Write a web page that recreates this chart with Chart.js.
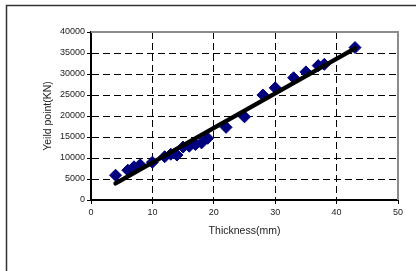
<!DOCTYPE html>
<html>
<head>
<meta charset="utf-8">
<script src="https://cdn.jsdelivr.net/npm/chart.js@4.4.0/dist/chart.umd.min.js"></script>
<style>
  body { margin: 0; background: #fff; }
  canvas { display: block; }
</style>
</head>
<body>
<canvas id="yieldChart" width="416" height="271"></canvas>
<script>
// measured thickness (mm) and yield point (KN)
var thickness = [4, 6, 7, 8, 10, 12, 13, 14, 15, 16, 17, 18, 19, 22, 25, 28, 30, 33, 35, 37, 38, 43];
var yieldPoint = [5900, 7100, 7900, 8400, 9000, 10300, 10900, 10700, 12600, 12800, 13200, 13600, 14700, 17300, 19800, 25000, 26700, 29100, 30500, 32000, 32300, 36300];

// linear trend line end points
var trendX = [4, 43];
var trendY = [3950, 36100];

var xTicks = [0, 10, 20, 30, 40, 50];
var yTicks = [0, 5000, 10000, 15000, 20000, 25000, 30000, 35000, 40000];

function toPoints(xs, ys) {
    return xs.map(function (x, i) { return { x: x, y: ys[i] }; });
}

// outer frame and grey top/right plot border
var framePlugin = {
    id: 'frame',
    beforeDraw: function (chart) {
        var ctx = chart.ctx;
        ctx.save();
        ctx.fillStyle = '#fff';
        ctx.fillRect(0, 0, chart.width, chart.height);
        ctx.strokeStyle = '#333';
        ctx.lineWidth = 1.5;
        ctx.beginPath();
        ctx.moveTo(6.5, chart.height + 2);
        ctx.lineTo(6.5, 5.5);
        ctx.lineTo(chart.width + 2, 5.5);
        ctx.stroke();
        ctx.restore();
    },
    afterDatasetsDraw: function (chart) {
        var a = chart.chartArea;
        var ctx = chart.ctx;
        ctx.save();
        ctx.strokeStyle = '#8c8c8c';
        ctx.lineWidth = 2;
        ctx.beginPath();
        ctx.moveTo(a.left, a.top);
        ctx.lineTo(a.right, a.top);
        ctx.lineTo(a.right, a.bottom);
        ctx.stroke();
        ctx.restore();
    }
};

var ctx = document.getElementById('yieldChart').getContext('2d');
var chart = new Chart(ctx, {
    type: 'scatter',
    data: {
        datasets: [
            {
                label: 'Trend',
                type: 'line',
                data: toPoints(trendX, trendY),
                borderColor: '#000',
                borderWidth: 4.5,
                borderCapStyle: 'round',
                pointRadius: 0,
                fill: false,
                order: 0
            },
            {
                label: 'Yeild point',
                data: toPoints(thickness, yieldPoint),
                pointStyle: 'rectRot',
                pointRadius: 6,
                backgroundColor: '#00007f',
                borderColor: '#00007f',
                borderWidth: 1,
                order: 1
            }
        ]
    },
    options: {
        responsive: false,
        animation: false,
        layout: { padding: { left: 38, right: 18, top: 32, bottom: 33 } },
        plugins: {
            legend: { display: false },
            tooltip: { enabled: false }
        },
        scales: {
            x: {
                type: 'linear',
                min: 0,
                max: 50,
                afterBuildTicks: function (scale) {
                    scale.ticks = xTicks.map(function (v) { return { value: v }; });
                },
                afterFit: function (scale) { scale.height = 38; },
                grid: {
                    color: function (c) {
                        return (c.tick.value === 0 || c.tick.value === 50) ? 'rgba(0,0,0,0)' : '#000';
                    },
                    lineWidth: 1,
                    tickColor: '#000',
                    tickLength: 4
                },
                border: { display: true, color: '#000', width: 2, dash: [7, 4] },
                ticks: {
                    color: '#222',
                    padding: 3,
                    maxRotation: 0,
                    callback: function (v) { return String(v); },
                    font: { family: 'Liberation Sans', size: 9 }
                },
                title: {
                    display: true,
                    text: 'Thickness(mm)',
                    color: '#222',
                    padding: { top: 0, bottom: 1 },
                    font: { family: 'Liberation Sans', size: 10.5 }
                }
            },
            y: {
                type: 'linear',
                min: 0,
                max: 40000,
                afterBuildTicks: function (scale) {
                    scale.ticks = yTicks.map(function (v) { return { value: v }; });
                },
                afterFit: function (scale) { scale.width = 53; },
                grid: {
                    color: function (c) {
                        return (c.tick.value === 0 || c.tick.value === 40000) ? 'rgba(0,0,0,0)' : '#000';
                    },
                    lineWidth: 1,
                    tickColor: '#000',
                    tickLength: 4
                },
                border: { display: true, color: '#000', width: 2, dash: [7, 4] },
                ticks: {
                    color: '#222',
                    padding: 2,
                    callback: function (v) { return String(v); },
                    font: { family: 'Liberation Sans', size: 9 }
                },
                title: {
                    display: true,
                    text: 'Yeild point(KN)',
                    color: '#222',
                    padding: { top: 4, bottom: 0 },
                    font: { family: 'Liberation Sans', size: 10.5 }
                }
            }
        }
    },
    plugins: [framePlugin]
});
</script>
</body>
</html>
